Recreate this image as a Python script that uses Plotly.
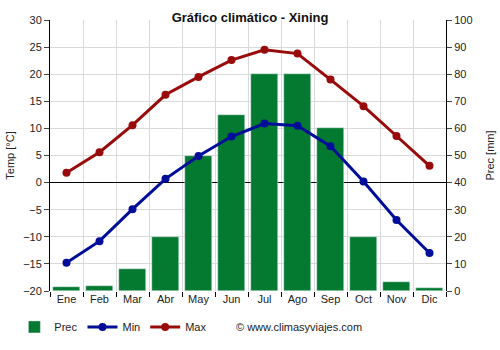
import plotly.graph_objects as go

months = ["Ene", "Feb", "Mar", "Abr", "May", "Jun", "Jul", "Ago", "Sep", "Oct", "Nov", "Dic"]
prec = [1.5, 2, 8, 20, 50, 65, 80, 80, 60, 20, 3.5, 1.2]
t_min = [-14.8, -10.8, -4.9, 0.7, 4.9, 8.5, 10.9, 10.5, 6.7, 0.2, -6.9, -13.0]
t_max = [1.8, 5.6, 10.6, 16.2, 19.5, 22.6, 24.5, 23.8, 19.0, 14.1, 8.6, 3.1]

xpos = [i + 0.5 for i in range(len(months))]
font = "Liberation Sans, Arial, sans-serif"

fig = go.Figure()
# precipitation on the base axis (right side), temperatures overlaid on top
fig.add_trace(go.Bar(x=xpos, y=prec, name="Prec", marker_color="#037a2f",
                     width=0.82, yaxis="y"))
fig.add_trace(go.Scatter(x=xpos, y=t_min, name="Min", mode="lines+markers",
                         line=dict(color="#000d99", width=3),
                         marker=dict(size=8, color="#000d99"), yaxis="y2"))
fig.add_trace(go.Scatter(x=xpos, y=t_max, name="Max", mode="lines+markers",
                         line=dict(color="#990a0a", width=3),
                         marker=dict(size=8, color="#990a0a"), yaxis="y2"))

fig.update_layout(
    width=500, height=350,
    margin=dict(l=50, r=54, t=20, b=59, autoexpand=False),
    paper_bgcolor="white", plot_bgcolor="white",
    font=dict(family=font, size=11, color="#222"),
    title=dict(text="<b>Gráfico climático - Xining</b>", x=0.5, xanchor="center",
               y=0.951, yanchor="middle", font=dict(size=13, color="#111")),
    bargap=0,
    showlegend=True,
    legend=dict(orientation="h", x=-0.09, xanchor="left", yref="container",
                y=0.066, yanchor="middle", font=dict(size=11, color="#222"),
                itemwidth=30, traceorder="normal", tracegroupgap=0),
    xaxis=dict(range=[0, 12], tickvals=xpos, ticktext=months, showgrid=False,
               ticks="", showline=False, zeroline=False,
               minor=dict(tickvals=list(range(13)), showgrid=True, gridcolor="#d9d9d9",
                          ticks="outside", ticklen=5, tickcolor="#000")),
    yaxis=dict(range=[0, 100], dtick=10, side="right",
               showgrid=False, zeroline=False, showline=True, linecolor="#000",
               ticks="outside", ticklen=5,
               title=dict(text="Prec [mm]", standoff=14, font=dict(size=11))),
    yaxis2=dict(range=[-20, 30], dtick=5, overlaying="y", side="left",
                showgrid=True, gridcolor="#d9d9d9",
                zeroline=True, zerolinecolor="#000", zerolinewidth=1.2,
                showline=True, linecolor="#000", ticks="outside", ticklen=5,
                title=dict(text="Temp [°C]", standoff=6, font=dict(size=11))),
)

fig.add_annotation(text="© www.climasyviajes.com", xref="paper", yref="paper",
                   x=0.63, y=-0.133, xanchor="center", yanchor="middle",
                   showarrow=False, font=dict(size=11, color="#222"))

fig.write_html("out.html")
